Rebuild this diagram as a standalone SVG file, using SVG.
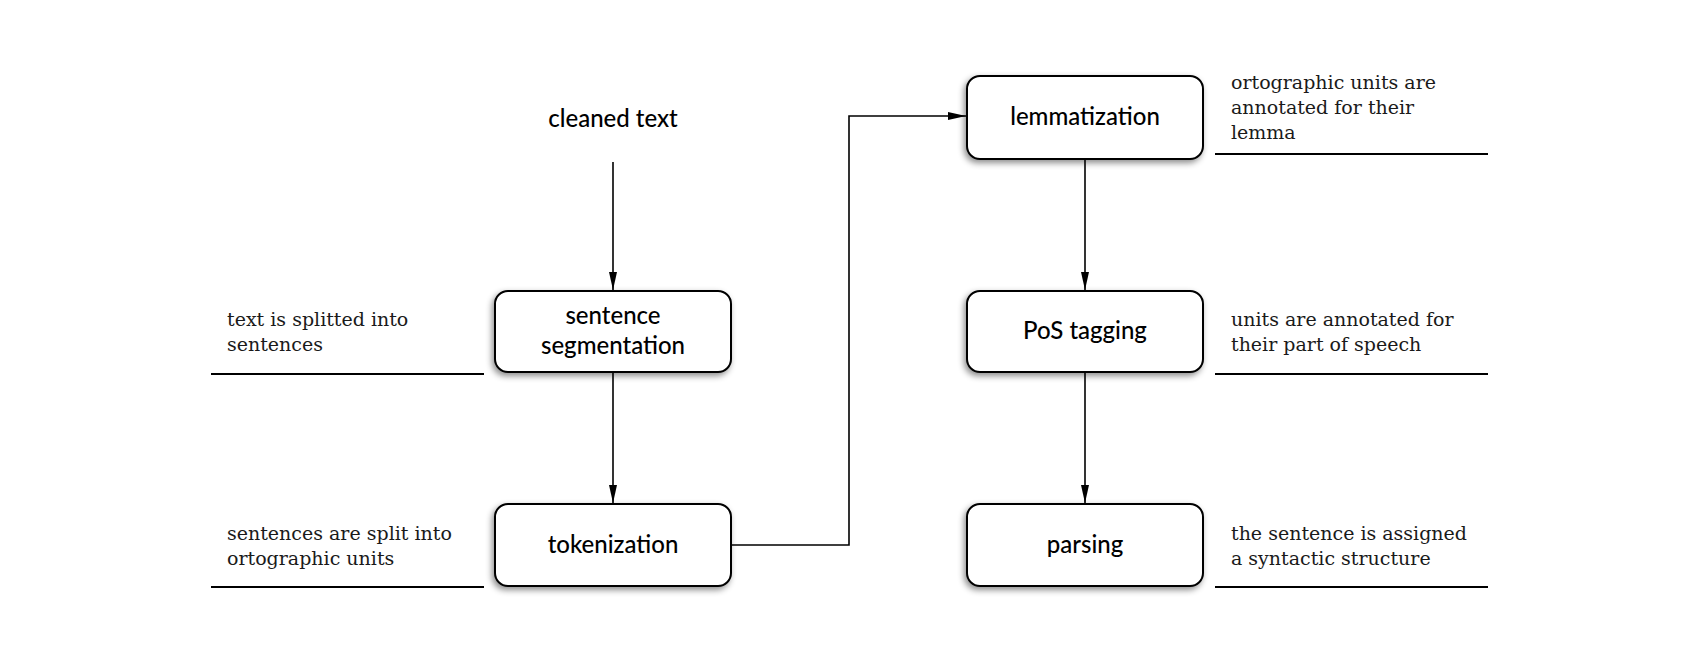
<svg xmlns="http://www.w3.org/2000/svg" width="1700" height="650" viewBox="0 0 1700 650">
<style>
.box{fill:#fff;stroke:#000;stroke-width:2;filter:url(#sh)}
.lbl{font-family:Lato,"Open Sans",sans-serif;font-size:24px;fill:#000;text-anchor:middle;font-weight:500}
.note{font-family:"DejaVu Serif",serif;font-size:19px;fill:#1a1a1a}
.rule{stroke:#000;stroke-width:2}
.conn{fill:none;stroke:#000;stroke-width:1.6;marker-end:url(#ah)}
</style>
<defs>
<filter id="sh" x="-20%" y="-20%" width="140%" height="150%">
<feDropShadow dx="-2" dy="3" stdDeviation="3" flood-color="#000" flood-opacity="0.45"/>
</filter>
<marker id="ah" markerWidth="18" markerHeight="8" refX="18" refY="4" orient="auto" markerUnits="userSpaceOnUse">
<path d="M0,0 L18,4 L0,8 Z" fill="#000"/>
</marker>
</defs>
<rect width="1700" height="650" fill="#fff"/>
<g id="connectors">
<path class="conn" d="M613,162 V290"/>
<path class="conn" d="M613,372 V503"/>
<path class="conn" d="M731,545 H849 V116 H966"/>
<path class="conn" d="M1085,159 V290"/>
<path class="conn" d="M1085,372 V503"/>
</g>
<g id="cleaned-text"><text class="lbl" x="613" y="127">cleaned text</text></g>
<g id="sentence-segmentation">
<rect class="box" x="495" y="291" width="236" height="81" rx="13"/>
<text class="lbl" x="613" y="324">sentence</text>
<text class="lbl" x="613" y="354">segmentation</text>
</g>
<g id="tokenization">
<rect class="box" x="495" y="504" width="236" height="82" rx="13"/>
<text class="lbl" x="613" y="553">tokenization</text>
</g>
<g id="lemmatization">
<rect class="box" x="967" y="76" width="236" height="83" rx="13"/>
<text class="lbl" x="1085" y="125">lemmatization</text>
</g>
<g id="pos-tagging">
<rect class="box" x="967" y="291" width="236" height="81" rx="13"/>
<text class="lbl" x="1085" y="339">PoS tagging</text>
</g>
<g id="parsing">
<rect class="box" x="967" y="504" width="236" height="82" rx="13"/>
<text class="lbl" x="1085" y="553">parsing</text>
</g>
<g id="note-segmentation">
<text class="note" x="227" y="326">text is splitted into</text>
<text class="note" x="227" y="351">sentences</text>
<line class="rule" x1="211" y1="374" x2="484" y2="374"/>
</g>
<g id="note-tokenization">
<text class="note" x="227" y="540">sentences are split into</text>
<text class="note" x="227" y="565">ortographic units</text>
<line class="rule" x1="211" y1="587" x2="484" y2="587"/>
</g>
<g id="note-lemmatization">
<text class="note" x="1231" y="89">ortographic units are</text>
<text class="note" x="1231" y="114">annotated for their</text>
<text class="note" x="1231" y="139">lemma</text>
<line class="rule" x1="1215" y1="154" x2="1488" y2="154"/>
</g>
<g id="note-pos">
<text class="note" x="1231" y="326">units are annotated for</text>
<text class="note" x="1231" y="351">their part of speech</text>
<line class="rule" x1="1215" y1="374" x2="1488" y2="374"/>
</g>
<g id="note-parsing">
<text class="note" x="1231" y="540">the sentence is assigned</text>
<text class="note" x="1231" y="565">a syntactic structure</text>
<line class="rule" x1="1215" y1="587" x2="1488" y2="587"/>
</g>
</svg>
